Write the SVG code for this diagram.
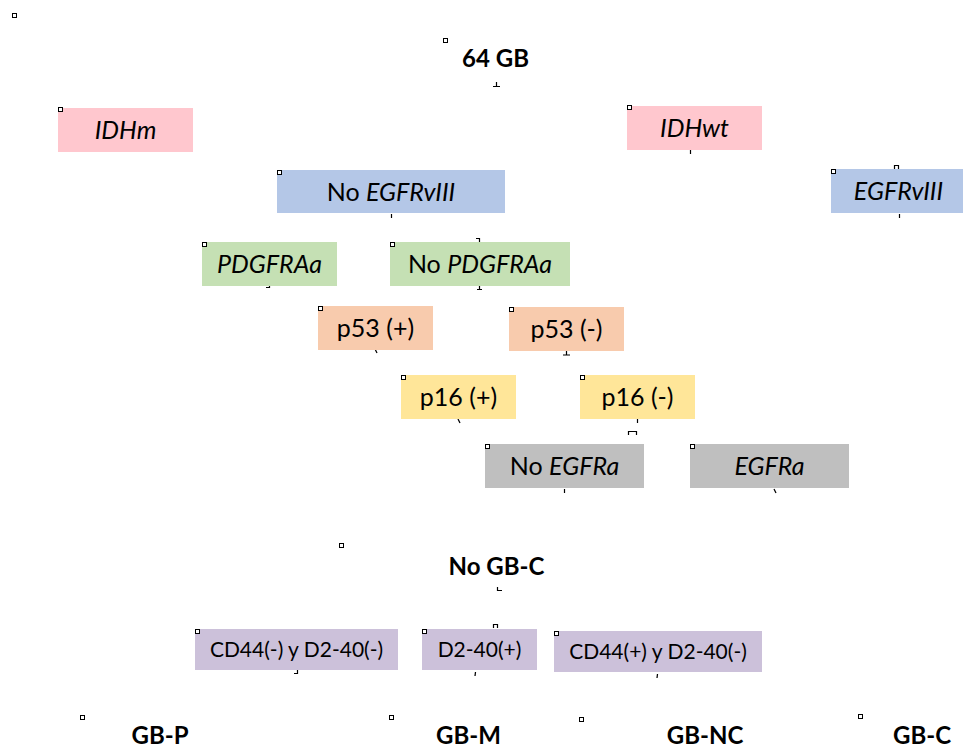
<svg xmlns="http://www.w3.org/2000/svg" width="963" height="749" viewBox="0 0 963 749">
<style>
.t{font-family:Lato,"Open Sans","Liberation Sans",sans-serif;font-size:25px;fill:#000;text-anchor:middle}
.s{font-size:21px}
.b{font-weight:bold;font-size:24px}
.i{font-style:italic}
.h{fill:#fff;stroke:#000;stroke-width:1}
.pink{fill:#FFC7CE}.blue{fill:#B4C7E7}.green{fill:#C5E0B4}.orange{fill:#F8CBAD}.yellow{fill:#FFE699}.grey{fill:#BFBFBF}.purple{fill:#CCC1DA}
#connectors path{fill:none;stroke:#000;stroke-width:1.2}
</style>
<rect width="963" height="749" fill="#fff"/>
<rect class="h" x="12.5" y="13.5" width="4" height="4"/>
<g id="connectors">
<path d="M496.5 82V87M493 86.5H500"/>
<path d="M690.5 150V154"/>
<path d="M894.5 170V165.5H898.5V170"/>
<path d="M899.5 214V218"/>
<path d="M391.5 214V218"/>
<path d="M266 287.5H269.5V284"/>
<path d="M476 238.5H479.5V242"/>
<path d="M479.5 286V290M477 289.5H482"/>
<path d="M375 349L377 353"/>
<path d="M566.5 351V355M563 355H570"/>
<path d="M458 419L460 423"/>
<path d="M637.5 419V423"/>
<path d="M628.5 435V431.5H636.5V435"/>
<path d="M564.5 489V493"/>
<path d="M774 489L776 493"/>
<path d="M497.5 587V590.5H502"/>
<path d="M294 673.5H297.5V670"/>
<path d="M493.5 628V624.5H497.5V628"/>
<path d="M475.5 672L475 676"/>
<path d="M657.5 674L657 678"/>
</g>
<g id="n64gb"><rect class="h" x="443.5" y="38.5" width="4" height="4"/><text class="t b" x="495.5" y="67">64 GB</text></g>
<g id="nIDHm"><rect class="pink" x="58" y="108" width="135" height="44"/><rect class="h" x="58.5" y="107.5" width="4" height="4"/><text class="t i" x="125.5" y="139">IDHm</text></g>
<g id="nIDHwt"><rect class="pink" x="627" y="106" width="135" height="44"/><rect class="h" x="627.5" y="105.5" width="4" height="4"/><text class="t i" x="694.5" y="137">IDHwt</text></g>
<g id="nNoEGFRvIII"><rect class="blue" x="277" y="170" width="228" height="43"/><rect class="h" x="277.5" y="170.5" width="4" height="4"/><text class="t" x="391" y="201">No <tspan class="i">EGFRvIII</tspan></text></g>
<g id="nEGFRvIII"><rect class="blue" x="831" y="169" width="135" height="44"/><rect class="h" x="831.5" y="169.5" width="4" height="4"/><text class="t i" x="898.5" y="200">EGFRvIII</text></g>
<g id="nPDGFRAa"><rect class="green" x="202" y="242" width="135" height="44"/><rect class="h" x="202.5" y="242.5" width="4" height="4"/><text class="t i" x="269.5" y="273">PDGFRAa</text></g>
<g id="nNoPDGFRAa"><rect class="green" x="390" y="242" width="180" height="44"/><rect class="h" x="390.5" y="242.5" width="4" height="4"/><text class="t" x="480" y="273">No <tspan class="i">PDGFRAa</tspan></text></g>
<g id="np53pos"><rect class="orange" x="318" y="306" width="115" height="44"/><rect class="h" x="318.5" y="306.5" width="4" height="4"/><text class="t" x="375.5" y="337">p53 (+)</text></g>
<g id="np53neg"><rect class="orange" x="509" y="307" width="115" height="44"/><rect class="h" x="509.5" y="307.5" width="4" height="4"/><text class="t" x="566.5" y="338">p53 (-)</text></g>
<g id="np16pos"><rect class="yellow" x="401" y="375" width="115" height="44"/><rect class="h" x="401.5" y="375.5" width="4" height="4"/><text class="t" x="458.5" y="406">p16 (+)</text></g>
<g id="np16neg"><rect class="yellow" x="580" y="375" width="115" height="44"/><rect class="h" x="580.5" y="375.5" width="4" height="4"/><text class="t" x="637.5" y="406">p16 (-)</text></g>
<g id="nNoEGFRa"><rect class="grey" x="485" y="444" width="159" height="44"/><rect class="h" x="485.5" y="444.5" width="4" height="4"/><text class="t" x="564.5" y="475">No <tspan class="i">EGFRa</tspan></text></g>
<g id="nEGFRa"><rect class="grey" x="690" y="444" width="159" height="44"/><rect class="h" x="690.5" y="444.5" width="4" height="4"/><text class="t i" x="769.5" y="475">EGFRa</text></g>
<g id="nNoGBC"><rect class="h" x="339.5" y="543.5" width="4" height="4"/><text class="t b" x="496.5" y="575">No GB-C</text></g>
<g id="nCD44neg"><rect class="purple" x="195" y="629" width="203" height="41"/><rect class="h" x="195.5" y="629.5" width="4" height="4"/><text class="t s" x="296.5" y="657">CD44(-) y D2-40(-)</text></g>
<g id="nD240pos"><rect class="purple" x="422" y="629" width="115" height="41"/><rect class="h" x="422.5" y="629.5" width="4" height="4"/><text class="t s" x="479.5" y="657">D2-40(+)</text></g>
<g id="nCD44pos"><rect class="purple" x="554" y="631" width="208" height="41"/><rect class="h" x="554.5" y="631.5" width="4" height="4"/><text class="t s" x="658" y="659">CD44(+) y D2-40(-)</text></g>
<g id="nGBP"><rect class="h" x="80.5" y="715.5" width="4" height="4"/><text class="t b" x="160" y="744">GB-P</text></g>
<g id="nGBM"><rect class="h" x="389.5" y="715.5" width="4" height="4"/><text class="t b" x="468.5" y="744">GB-M</text></g>
<g id="nGBNC"><rect class="h" x="579.5" y="717.5" width="4" height="4"/><text class="t b" x="705" y="744">GB-NC</text></g>
<g id="nGBC"><rect class="h" x="858.5" y="714.5" width="4" height="4"/><text class="t b" x="922" y="744">GB-C</text></g>
</svg>
